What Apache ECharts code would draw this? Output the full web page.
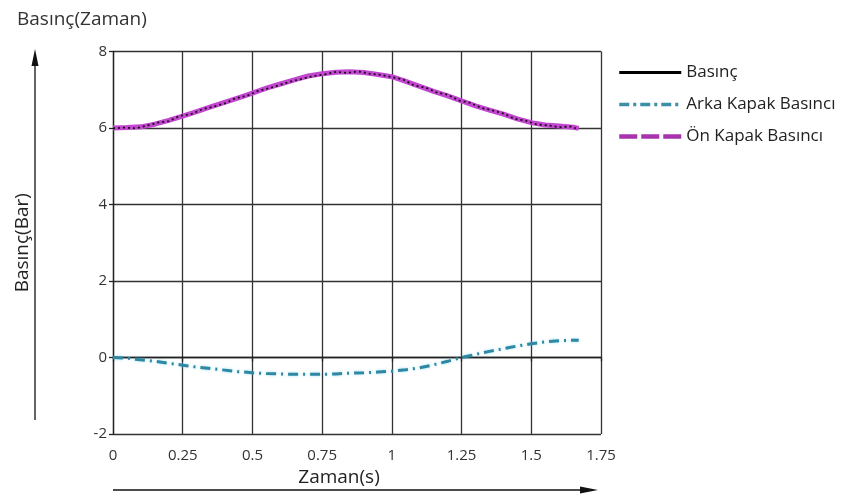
<!DOCTYPE html>
<html>
<head>
<meta charset="utf-8">
<script src="https://cdn.jsdelivr.net/npm/echarts@6/dist/echarts.min.js"></script>
<style>html,body{margin:0;padding:0;background:#fff}#c{width:864px;height:494px}</style>
</head>
<body>
<div id="c"></div>
<script>
// Time values (s)
var timeOn = [0,0.05,0.1,0.15,0.2,0.25,0.3,0.35,0.4,0.45,0.5,0.55,0.6,0.65,0.7,0.75,0.8,0.85,0.9,0.95,1.0,1.05,1.1,1.15,1.2,1.25,1.3,1.35,1.4,1.45,1.5,1.55,1.6,1.65,1.67];
// Ön Kapak Basıncı (bar)
var onKapak = [6.00,6.01,6.03,6.10,6.20,6.31,6.43,6.55,6.67,6.79,6.91,7.04,7.15,7.26,7.36,7.42,7.46,7.47,7.45,7.40,7.34,7.22,7.09,6.96,6.84,6.71,6.58,6.47,6.36,6.24,6.14,6.08,6.05,6.02,5.99];
// Basınç (bar) - measured, noisy
var timeB = [0,0.04,0.08,0.12,0.16,0.2,0.24,0.28,0.32,0.36,0.4,0.44,0.48,0.52,0.56,0.6,0.64,0.68,0.72,0.76,0.8,0.84,0.88,0.92,0.96,1.0,1.04,1.08,1.12,1.16,1.2,1.24,1.28,1.32,1.36,1.4,1.44,1.48,1.52,1.56,1.6,1.64,1.66];
var basinc = [5.99,6.01,5.99,6.06,6.14,6.18,6.32,6.36,6.49,6.56,6.64,6.78,6.84,6.97,7.04,7.13,7.22,7.29,7.36,7.40,7.47,7.44,7.48,7.42,7.39,7.33,7.27,7.11,7.06,6.93,6.87,6.72,6.66,6.53,6.46,6.38,6.24,6.19,6.09,6.07,6.02,6.04,5.99];
// Arka Kapak Basıncı (bar)
var timeArka = [0,0.05,0.1,0.15,0.2,0.25,0.3,0.35,0.4,0.45,0.5,0.55,0.6,0.65,0.7,0.75,0.8,0.85,0.9,0.95,1.0,1.05,1.1,1.15,1.2,1.25,1.3,1.35,1.4,1.45,1.5,1.55,1.6,1.65,1.67];
var arkaKapak = [0.00,-0.02,-0.06,-0.10,-0.15,-0.20,-0.25,-0.29,-0.33,-0.37,-0.40,-0.42,-0.43,-0.44,-0.44,-0.44,-0.43,-0.41,-0.40,-0.38,-0.36,-0.32,-0.27,-0.19,-0.10,0.00,0.08,0.16,0.23,0.30,0.36,0.41,0.44,0.45,0.45];

function pairs(xs, ys){ return xs.map(function(x,i){return [x, ys[i]];}); }

var font = '"Open Sans", "Noto Sans", sans-serif';
var chart = echarts.init(document.getElementById('c'), null, {renderer:'canvas'});
chart.setOption({
  animation:false,
  backgroundColor:'#fff',
  title:{text:'Basınç(Zaman)', left:12, top:5, textStyle:{fontFamily:font, fontSize:19, fontWeight:'normal', color:'#333'}},
  legend:{
    orient:'vertical', left:612, top:59, itemWidth:62, itemHeight:14, itemGap:15,
    itemStyle:{opacity:0},
    textStyle:{fontFamily:font, fontSize:17, color:'#222'},
    data:[
      {name:'Basınç', lineStyle:{width:3, type:'solid', color:'#000'}},
      {name:'Arka Kapak Basıncı', lineStyle:{width:3.5, type:[10,4,3,4], color:'#3d8fa6'}},
      {name:'Ön Kapak Basıncı', lineStyle:{width:4.5, type:[18,4], color:'#a733ad'}}
    ]
  },
  grid:{left:113, right:263, top:51.5, bottom:60},
  xAxis:{
    type:'value', min:0, max:1.75, interval:0.25,
    name:'Zaman(s)', nameLocation:'middle', nameGap:32,
    nameTextStyle:{fontFamily:font, fontSize:19, color:'#222', padding:[0,36,0,0]},
    axisLine:{show:true, lineStyle:{color:'#222', width:1.3}},
    axisTick:{show:true, length:4, lineStyle:{color:'#222', width:1.3}},
    axisLabel:{fontFamily:font, fontSize:15, color:'#333', margin:14},
    splitLine:{show:true, lineStyle:{color:'#333', width:1.3}}
  },
  yAxis:{
    type:'value', min:-2, max:8, interval:2,
    name:'Basınç(Bar)', nameLocation:'middle', nameGap:81,
    nameTextStyle:{fontFamily:font, fontSize:19, color:'#222'},
    axisLine:{show:true, lineStyle:{color:'#222', width:1.3}},
    axisTick:{show:true, length:4, lineStyle:{color:'#222', width:1.3}},
    axisLabel:{fontFamily:font, fontSize:15, color:'#333', margin:6},
    splitLine:{show:true, lineStyle:{color:'#333', width:1.3}}
  },
  series:[
    {name:'Ön Kapak Basıncı', type:'line', symbol:'none', z:3, color:'#b23ab8',
      lineStyle:{color:'#c246cf', width:5, type:'solid'},
      data:pairs(timeOn, onKapak)},
    {name:'Basınç', type:'line', symbol:'none', z:4, color:'#000',
      lineStyle:{color:'#1a0a1a', width:1.8, type:[2,3]},
      data:pairs(timeB, basinc)},
    {name:'Arka Kapak Basıncı', type:'line', symbol:'none', z:3, color:'#2f86a0',
      lineStyle:{color:'#2f88a3', width:3, type:[10,5,2,5], shadowColor:'rgba(90,200,230,0.6)', shadowBlur:3},
      data:pairs(timeArka, arkaKapak)}
  ],
  graphic:[
    {type:'line', shape:{x1:35, y1:420, x2:35, y2:60}, style:{stroke:'#111', lineWidth:1.3}},
    {type:'polygon', shape:{points:[[35,49],[31.5,66],[38.5,66]]}, style:{fill:'#111'}},
    {type:'line', shape:{x1:113, y1:490, x2:585, y2:490}, style:{stroke:'#111', lineWidth:1.3}},
    {type:'polygon', shape:{points:[[598,490],[580,486.5],[580,493.5]]}, style:{fill:'#111'}}
  ]
});
</script>
</body>
</html>
